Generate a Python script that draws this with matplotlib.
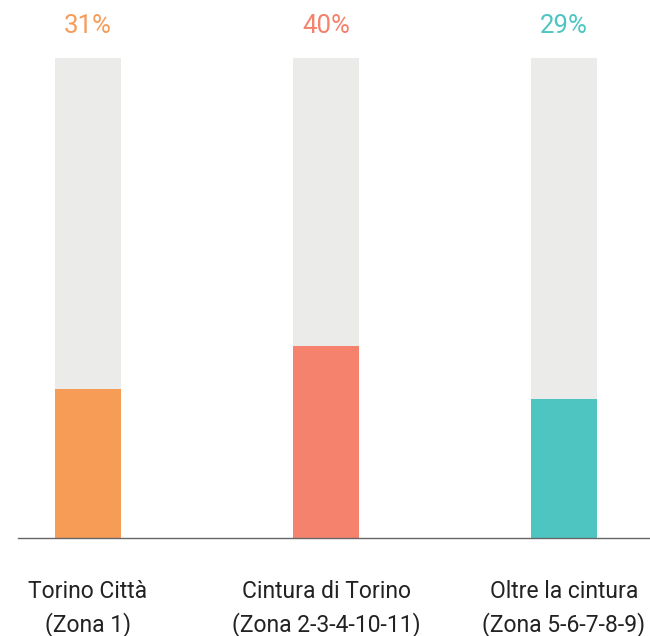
import matplotlib
matplotlib.use("Agg")
import matplotlib.pyplot as plt

categories = ["Torino Città\n(Zona 1)", "Cintura di Torino\n(Zona 2-3-4-10-11)", "Oltre la cintura\n(Zona 5-6-7-8-9)"]
values = [31, 40, 29]
labels = ["31%", "40%", "29%"]
totals = [100, 100, 100]
colors = ["#F79C56", "#F5826D", "#4EC5C1"]

plt.rcParams['font.family'] = ['Roboto', 'DejaVu Sans']

fig = plt.figure(figsize=(6.5, 6.36), dpi=100)
ax = fig.add_axes([18/650, 1-538/636, 1-18/650, 480/636])
x = list(range(len(categories)))
w = 66/238
ax.bar(x, totals, width=w, color="#EBECEA", zorder=1)
ax.bar(x, values, width=w, color=colors, zorder=2)
for xi, lab, c in zip(x, labels, colors):
    ax.annotate(lab, (xi, 100), xytext=(0, 32), textcoords="offset pixels",
                ha="center", va="center", fontsize=18.5, color=c, annotation_clip=False)
ax.set_xlim(-70/238, 2 + 86/238)
ax.set_ylim(0, 100)
ax.set_xticks(x)
ax.set_xticklabels(categories, fontsize=16.5, color="#222222", linespacing=1.5)
ax.tick_params(axis="x", length=0, pad=30)
ax.set_yticks([])
for s in ["top", "right", "left"]:
    ax.spines[s].set_visible(False)
ax.spines["bottom"].set_color("#666666")
ax.spines["bottom"].set_linewidth(1.0)
fig.savefig("out.png", dpi=100)
